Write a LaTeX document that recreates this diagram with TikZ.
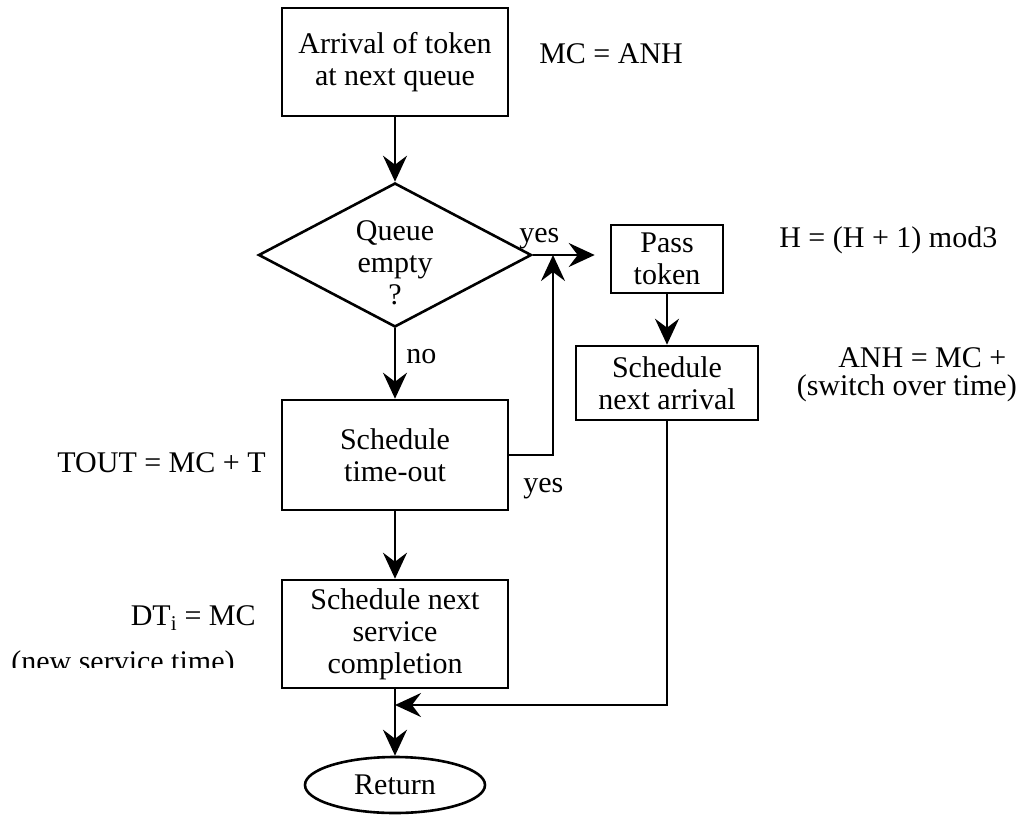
\documentclass[tikz,border=0pt]{standalone}
\usepackage{fontspec}
\setmainfont{Liberation Serif}
\usetikzlibrary{arrows.meta,shapes.geometric}
\begin{document}
\begin{tikzpicture}[x=1pt,y=-1pt,
  line width=2.6pt,
  every node/.style={font=\fontsize{30}{32}\selectfont},
  procbox/.style={draw,rectangle,align=center,inner sep=0pt},
  decision/.style={draw,diamond,inner sep=0pt},
  terminal/.style={draw,ellipse,inner sep=0pt},
  note/.style={inner sep=0pt},
  flow/.style={-{Stealth[length=26pt,width=24pt,inset=9pt]}},
]
\useasboundingbox (0,0) rectangle (1019,814);

% main column
\node[procbox,minimum width=226pt,minimum height=108pt] (arr) at (395,62)
  {Arrival of token\\at next queue};
\node[decision,minimum width=273pt,minimum height=144pt] (dia) at (395,255) {};
\node[note,align=center] (diatext) at (395,263) {Queue\\empty\\?};
\node[procbox,minimum width=226pt,minimum height=110pt] (tout) at (395,455)
  {Schedule\\time-out};
\node[procbox,minimum width=226pt,minimum height=108pt] (serv) at (395,634)
  {Schedule next\\service\\completion};
\node[terminal,minimum width=180pt,minimum height=56pt] (ret) at (395,785) {Return};

% right column
\node[procbox,minimum width=112pt,minimum height=68pt] (pass) at (667,259)
  {Pass\\token};
\node[procbox,minimum width=182pt,minimum height=74pt] (next) at (667,383)
  {Schedule\\next arrival};

% junction points
\coordinate (join) at (553,255);
\coordinate (merge) at (395,705);

% connectors
\draw[flow] (arr.south) -- (dia.north);
\draw[flow,shorten >=15pt] (dia.east) -- (dia.east -| pass.west);
\draw[flow] (tout.east) -| (join);
\draw[flow] (dia.south) -- (tout.north);
\draw[flow] (tout.south) -- (serv.north);
\draw[flow] (pass.south) -- (next.north);
\draw[flow] (next.south) |- (merge);
\draw[flow] (serv.south) -- (ret.north);

% branch labels
\node[note,anchor=base west] (yes1) at (518,242) {yes};
\node[note,anchor=base west] (no1) at (405,363) {no};
\node[note,anchor=base west] (yes2) at (522,492) {yes};

% annotations
\node[note,anchor=base west] (mc) at (538,63) {MC = ANH};
\node[note,anchor=base west] (hmod) at (778,247) {H = (H + 1) mod3};
\node[note,anchor=base west] (anh) at (837,367) {ANH = MC +};
\node[note,anchor=base east] (sw) at (1018,395) {(switch over time)};
\node[note,anchor=base east] (tmo) at (267,472) {TOUT = MC + T};
\node[note,anchor=base east] (dt) at (257,625) {DT\textsubscript{i} = MC};
\begin{scope}
  \clip (0,640) rectangle (270,667);
  \node[note,anchor=base west] (nst) at (10,671) {(new service time)};
\end{scope}
\end{tikzpicture}
\end{document}
